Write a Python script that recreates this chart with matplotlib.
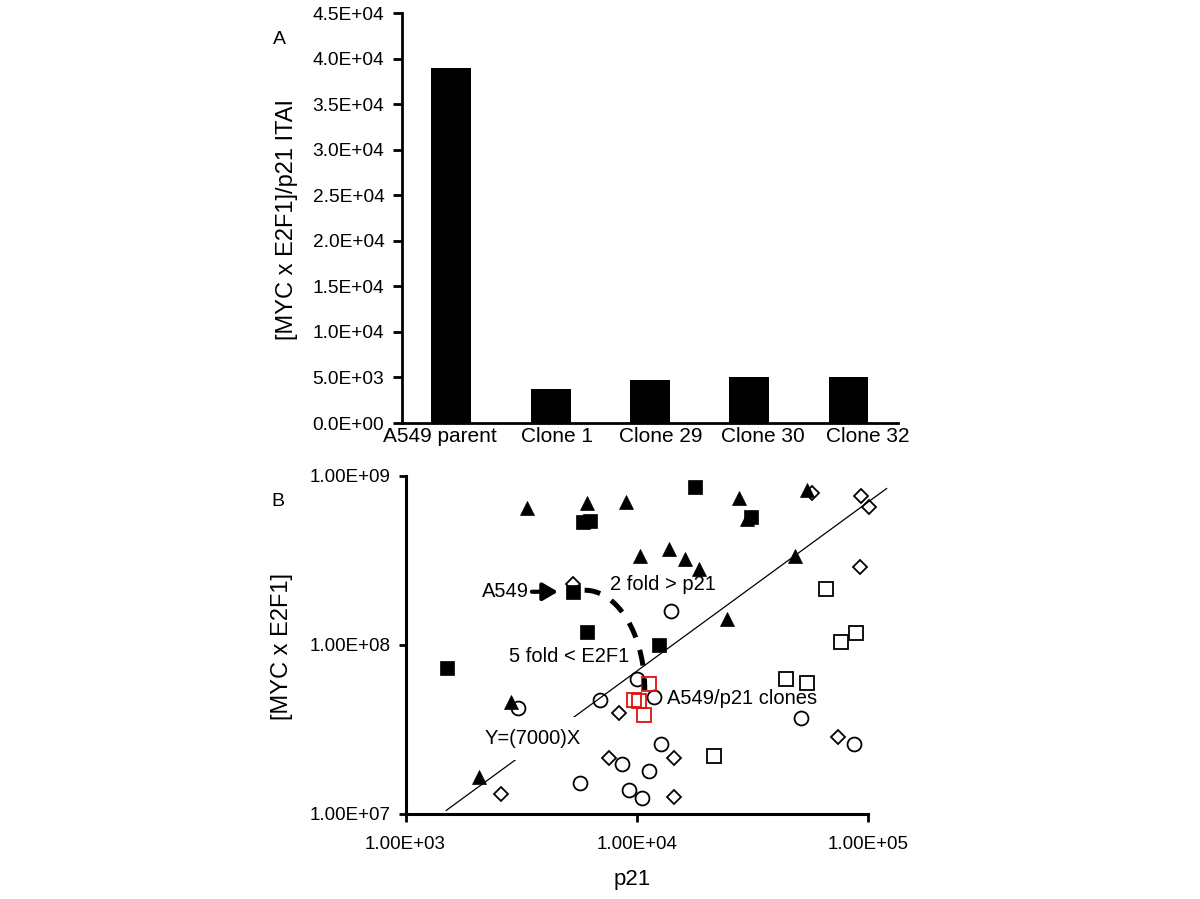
import numpy as np
import matplotlib.pyplot as plt
from matplotlib.ticker import FixedLocator, FuncFormatter, NullLocator

plt.rcParams['font.family'] = ['Liberation Sans', 'DejaVu Sans']

# Panel A: [MYC x E2F1]/p21 ITAI
bar_labels = ['A549 parent', 'Clone 1', 'Clone 29', 'Clone 30', 'Clone 32']
bar_values = [39000, 3700, 4700, 5000, 5100]

# Panel B: p21 (x) vs MYC x E2F1 (y)
tri_p21 = [3350, 6080, 8950, 27700, 29900, 54400, 10330, 13700, 16200, 18500, 48400, 24500, 2860, 2080]
tri_myc = [6.41e8, 6.86e8, 6.98e8, 7.34e8, 5.52e8, 8.22e8, 3.33e8, 3.67e8, 3.20e8, 2.79e8, 3.35e8, 1.415e8, 4.61e7, 1.66e7]

fsq_p21 = [5840, 6240, 17750, 31100, 5270, 6080, 12400, 1510]
fsq_myc = [5.34e8, 5.41e8, 8.60e8, 5.67e8, 2.06e8, 1.195e8, 1.0e8, 7.34e7]

osq_p21 = [65700, 76500, 88600, 44100, 54400, 21450]
osq_myc = [2.13e8, 1.04e8, 1.18e8, 6.25e7, 5.97e7, 2.20e7]

circ_p21 = [14070, 3075, 6940, 10000, 11800, 51300, 86500, 12740, 5690, 8610, 11230, 9200, 10540]
circ_myc = [1.58e8, 4.25e7, 4.72e7, 6.28e7, 4.93e7, 3.71e7, 2.58e7, 2.58e7, 1.53e7, 1.97e7, 1.80e7, 1.39e7, 1.24e7]

dia_p21 = [5270, 57150, 93400, 100800, 92400, 8330, 73700, 2590, 7550, 14400, 14400]
dia_myc = [2.29e8, 7.86e8, 7.61e8, 6.55e8, 2.87e8, 3.98e7, 2.84e7, 1.31e7, 2.14e7, 2.15e7, 1.255e7]

clone_p21 = [11230, 9670, 10180, 10680]
clone_myc = [5.87e7, 4.69e7, 4.68e7, 3.85e7]

fit_slope = 7000
fit_p21 = [1500, 120000]

fig = plt.figure(figsize=(12, 8.99), dpi=100)

# ---- Panel A
axA = fig.add_axes([401.7 / 1200, 1 - 423 / 899, 496.5 / 1200, 409.7 / 899])
xpos = np.arange(len(bar_labels))
axA.bar(xpos, bar_values, width=0.40, color='black')
axA.set_xlim(-0.5, len(bar_labels) - 0.5)
axA.set_ylim(0, 45000)
axA.yaxis.set_major_locator(FixedLocator(np.arange(0, 45001, 5000)))
axA.yaxis.set_major_formatter(FuncFormatter(lambda v, p: f'{v:.1E}'))
# category labels sit slightly off the bar centres, as in the original
label_shift = np.array([-0.12, 0.06, 0.11, 0.14, 0.19])
axA.set_xticks(xpos + label_shift)
axA.set_xticklabels(bar_labels)
axA.tick_params(axis='x', length=0, pad=3, labelsize=15)
axA.tick_params(axis='y', length=6.5, width=2, pad=6, labelsize=13.8)
for s in ['top', 'right']:
    axA.spines[s].set_visible(False)
for s in ['left', 'bottom']:
    axA.spines[s].set_linewidth(2)
fig.text(287.3 / 1200, 1 - 220 / 899, '[MYC x E2F1]/p21 ITAI', rotation=90,
         ha='center', va='center', fontsize=17)
fig.text(279 / 1200, 1 - 40 / 899, 'A', ha='center', va='center', fontsize=14)

# ---- Panel B
axB = fig.add_axes([405.5 / 1200, 1 - 814 / 899, (868.3 - 405.5) / 1200, (814 - 475.7) / 899])
axB.set_xscale('log')
axB.set_yscale('log')
axB.set_xlim(1e3, 1e5)
axB.set_ylim(1e7, 1e9)

fx = np.array(fit_p21, dtype=float)
axB.plot(fx, fit_slope * fx, color='black', lw=0.9, clip_on=False, zorder=1)

mk = dict(linestyle='none', clip_on=False)
axB.plot(circ_p21, circ_myc, marker='o', ms=10, mfc='none', mec='black', mew=1.3, zorder=3, **mk)
axB.plot(dia_p21, dia_myc, marker='D', ms=7, mfc='none', mec='black', mew=1.3, zorder=3, **mk)
axB.plot(osq_p21, osq_myc, marker='s', ms=10, mfc='none', mec='black', mew=1.3, zorder=3, **mk)
axB.plot(tri_p21, tri_myc, marker='^', ms=10, mfc='black', mec='black', mew=0.5, zorder=4, **mk)
axB.plot(fsq_p21, fsq_myc, marker='s', ms=10, mfc='black', mec='black', mew=0.5, zorder=5, **mk)
axB.plot(clone_p21, clone_myc, marker='s', ms=9.5, mfc='none', mec='#e01010', mew=1.3, zorder=6, **mk)

# dashed arc between the annotations
t = np.linspace(0, np.pi / 2, 60)
arc_cx, arc_cy, arc_rx, arc_ry = 3.774, 7.733, 0.26, 0.59
axB.plot(10 ** (arc_cx + arc_rx * np.sin(t)), 10 ** (arc_cy + arc_ry * np.cos(t)),
         color='black', lw=3.6, linestyle=(0, (3.2, 2.6)), solid_capstyle='butt', zorder=7)

axB.annotate('A549', xy=(4560, 2.06e8), xytext=(3420, 2.06e8), ha='right', va='center',
             fontsize=14.5,
             arrowprops=dict(arrowstyle='-|>,head_length=0.6,head_width=0.35', lw=3,
                             color='black', mutation_scale=15, relpos=(1.0, 0.5),
                             shrinkA=0, shrinkB=0), zorder=8)
axB.text(7614, 2.26e8, '2 fold > p21', ha='left', va='center', fontsize=14.5)
axB.text(5095, 8.51e7, '5 fold < E2F1', ha='center', va='center', fontsize=14.5)
axB.text(13520, 4.85e7, 'A549/p21 clones', ha='left', va='center', fontsize=14.5)
axB.text(3560, 2.79e7, 'Y=(7000)X', ha='center', va='center', fontsize=14.5, zorder=2,
         bbox=dict(boxstyle='square,pad=0.6', facecolor='white', edgecolor='none'))

axB.xaxis.set_major_locator(FixedLocator([1e3, 1e4, 1e5]))
axB.yaxis.set_major_locator(FixedLocator([1e7, 1e8, 1e9]))
axB.xaxis.set_minor_locator(NullLocator())
axB.yaxis.set_minor_locator(NullLocator())
fmt2 = FuncFormatter(lambda v, p: f'{v:.2E}')
axB.xaxis.set_major_formatter(fmt2)
axB.yaxis.set_major_formatter(fmt2)
axB.tick_params(axis='x', length=6, width=2, pad=10, labelsize=13.5)
axB.tick_params(axis='y', length=5, width=2, pad=6, labelsize=13.5)
for s in ['top', 'right']:
    axB.spines[s].set_visible(False)
for s in ['left', 'bottom']:
    axB.spines[s].set_linewidth(2.2)

fig.text(281.7 / 1200, 1 - 646 / 899, '[MYC x E2F1]', rotation=90,
         ha='center', va='center', fontsize=17)
fig.text(632 / 1200, 1 - 880 / 899, 'p21', ha='center', va='center', fontsize=16)
fig.text(278.3 / 1200, 1 - 501.7 / 899, 'B', ha='center', va='center', fontsize=14)

fig.savefig('out.png', dpi=100)
